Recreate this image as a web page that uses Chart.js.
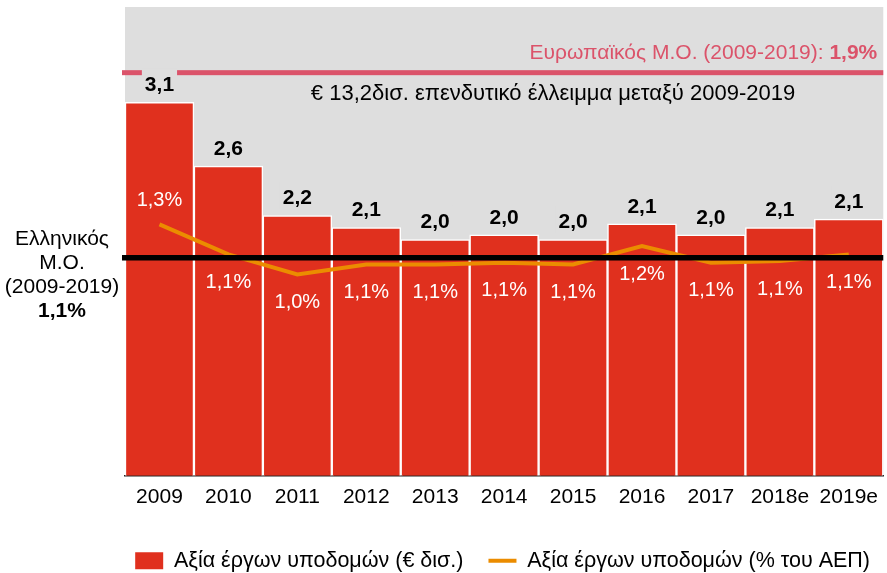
<!DOCTYPE html>
<html>
<head>
<meta charset="utf-8">
<script src="https://cdn.jsdelivr.net/npm/chart.js@4.4.1/dist/chart.umd.min.js"></script>
<style>
  html, body { margin: 0; padding: 0; background: #fff; }
</style>
</head>
<body>
<canvas id="myChart" width="887" height="573"></canvas>
<script>
// data
const years = ['2009', '2010', '2011', '2012', '2013', '2014', '2015', '2016', '2017', '2018e', '2019e'];
const infraValue = [3.10, 2.57, 2.16, 2.06, 1.96, 2.00, 1.96, 2.09, 2.00, 2.06, 2.13];   // € δισ.
const infraPctGdp = [1.30, 1.12, 1.00, 1.06, 1.06, 1.07, 1.06, 1.17, 1.07, 1.08, 1.12]; // % του ΑΕΠ
const greekAvg = 1.1;   // Ελληνικός Μ.Ο.
const euAvg = 1.9;      // Ευρωπαϊκός Μ.Ο.
const gapValue = 13.2;  // επενδυτικό έλλειμμα
const seriesNames = ['Αξία έργων υποδομών (€ δισ.)', 'Αξία έργων υποδομών (% του ΑΕΠ)'];

const RED = '#e0301e';
const ORANGE = '#eb8c00';
const PINK = '#db536a';
const GRAY = '#dedede';
const FONT = '"Liberation Sans", Arial, sans-serif';
const euLineLevel = 3.345; // θέση της γραμμής του Ευρωπαϊκού Μ.Ο. (μονάδες άξονα € δισ.)

function fmt(v) {
    return v.toFixed(1).replace('.', ',');
}

const decor = {
    id: 'decor',
    beforeDraw(chart) {
        // γκρι φόντο
        const { ctx, chartArea: a } = chart;
        ctx.save();
        ctx.fillStyle = GRAY;
        ctx.fillRect(a.left, a.top, a.right - a.left, a.bottom - a.top);
        ctx.restore();
    },
    afterDatasetsDraw(chart) {
        const { ctx, chartArea: a, scales } = chart;
        ctx.save();

        // Ελληνικός Μ.Ο. - μαύρη γραμμή
        const gy = scales.y1.getPixelForValue(greekAvg);
        ctx.fillStyle = '#000';
        ctx.fillRect(a.left - 3, gy - 2.75, a.right - a.left + 3, 5.5);

        // Ευρωπαϊκός Μ.Ο. - ροζ γραμμή
        const ey = scales.y.getPixelForValue(euLineLevel);
        ctx.fillStyle = PINK;
        ctx.fillRect(a.left - 3, ey - 2.5, a.right - a.left + 3, 5);

        ctx.textAlign = 'center';
        ctx.textBaseline = 'middle';

        // τιμές ράβδων
        ctx.font = 'bold 21px ' + FONT;
        chart.getDatasetMeta(1).data.forEach((bar, i) => {
            const t = fmt(infraValue[i]);
            const w = ctx.measureText(t).width;
            const cy = bar.y - 17;
            ctx.fillStyle = GRAY;
            ctx.fillRect(bar.x - w / 2 - 3, cy - 17, w + 6, 28);
            ctx.fillStyle = '#000';
            ctx.fillText(t, bar.x, cy);
        });

        // ποσοστά γραμμής
        ctx.font = '20px ' + FONT;
        ctx.fillStyle = '#fff';
        chart.getDatasetMeta(0).data.forEach((pt, i) => {
            const cy = i === 0 ? pt.y - 24 : pt.y + 28;
            ctx.fillText(fmt(infraPctGdp[i]) + '%', pt.x, cy);
        });

        // κείμενο Ευρωπαϊκού Μ.Ο.
        const euBold = fmt(euAvg) + '%';
        const euText = 'Ευρωπαϊκός Μ.Ο. (2009-2019): ';
        ctx.textAlign = 'right';
        ctx.fillStyle = PINK;
        ctx.font = 'bold 21px ' + FONT;
        const bw = ctx.measureText(euBold).width;
        ctx.fillText(euBold, a.right - 6, ey - 19);
        ctx.font = '21px ' + FONT;
        ctx.fillText(euText, a.right - 6 - bw, ey - 19);

        // επενδυτικό έλλειμμα
        ctx.textAlign = 'center';
        ctx.fillStyle = '#000';
        ctx.font = '22px ' + FONT;
        ctx.fillText('€ ' + fmt(gapValue) + 'δισ. επενδυτικό έλλειμμα μεταξύ 2009-2019', a.left + 428, ey + 21);

        // Ελληνικός Μ.Ο. - ετικέτα αριστερά
        ctx.font = '21px ' + FONT;
        const lx = 62;
        ctx.fillText('Ελληνικός', lx, gy - 19);
        ctx.fillText('Μ.Ο.', lx, gy + 5);
        ctx.fillText('(2009-2019)', lx, gy + 29);
        ctx.font = 'bold 21px ' + FONT;
        ctx.fillText(fmt(greekAvg) + '%', lx, gy + 53);

        ctx.restore();
    }
};

const ctx = document.getElementById('myChart').getContext('2d');
new Chart(ctx, {
    data: {
        labels: years,
        datasets: [{
            type: 'line',
            label: seriesNames[1],
            data: infraPctGdp,
            yAxisID: 'y1',
            borderColor: ORANGE,
            backgroundColor: ORANGE,
            borderWidth: 4,
            pointRadius: 0,
            tension: 0,
            fill: false
        }, {
            type: 'bar',
            label: seriesNames[0],
            data: infraValue,
            yAxisID: 'y',
            backgroundColor: RED,
            borderColor: '#fff',
            borderWidth: 1.5,
            barPercentage: 1,
            categoryPercentage: 1
        }]
    },
    options: {
        responsive: false,
        animation: false,
        devicePixelRatio: 1,
        // το υπόμνημα μετακινείται λίγο δεξιά, ο y1 τρώει το περιθώριο
        layout: { padding: { left: 0, right: -8, top: 7, bottom: 0 } },
        scales: {
            x: {
                grid: { display: false, drawTicks: false },
                border: { display: true, color: '#222', width: 1.5 },
                ticks: { color: '#000', font: { family: FONT, size: 21 }, padding: 9, maxRotation: 0 },
                afterFit: s => { s.height += 6; }
            },
            y: {
                position: 'left',
                min: 0, max: 3.89,
                grid: { display: false, drawTicks: false },
                border: { display: false },
                ticks: { display: false },
                afterFit: s => { s.width = 125; }
            },
            y1: {
                position: 'right',
                min: -0.206, max: 2.602,
                grid: { display: false, drawTicks: false },
                border: { display: false },
                ticks: { display: false },
                afterFit: s => { s.width = 8; }
            }
        },
        plugins: {
            tooltip: { enabled: false },
            legend: {
                position: 'bottom',
                align: 'end',
                maxHeight: 48,
                labels: {
                    usePointStyle: true,
                    pointStyleWidth: 28,
                    boxHeight: 17,
                    padding: 25,
                    color: '#000',
                    font: { family: FONT, size: 21.5 },
                    generateLabels: chart => {
                        const ds = chart.data.datasets;
                        return [
                            { text: ds[1].label, fillStyle: RED, strokeStyle: RED, lineWidth: 0, pointStyle: 'rect', datasetIndex: 1, hidden: false, fontColor: '#000' },
                            { text: ds[0].label, fillStyle: ORANGE, strokeStyle: ORANGE, lineWidth: 4, pointStyle: 'line', datasetIndex: 0, hidden: false, fontColor: '#000' }
                        ];
                    }
                }
            }
        }
    },
    plugins: [decor]
});
</script>
</body>
</html>
